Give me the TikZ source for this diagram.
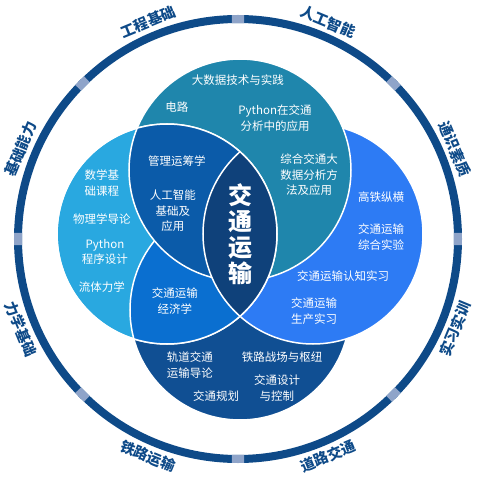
\documentclass[tikz,border=0pt]{standalone}
\usepackage{fontspec}
\setmainfont{Noto Sans CJK SC}
\usepackage{xcolor}
\usepackage{tikz}

\definecolor{ringblue}{HTML}{0E4A88}
\definecolor{ringgap}{HTML}{8FA4C9}
\definecolor{topteal}{HTML}{1F86AC}
\definecolor{leftsky}{HTML}{29A8E0}
\definecolor{rightblue}{HTML}{2D7BF4}
\definecolor{bottomnavy}{HTML}{104F93}
\definecolor{tlblue}{HTML}{0B5BA9}
\definecolor{lbblue}{HTML}{0A6FD0}
\definecolor{coreblue}{HTML}{0F417A}

\begin{document}
\begin{tikzpicture}[x=1pt, y=1pt,
  course/.style={text=white, align=center, font=\fontsize{11.5}{15.5}\selectfont},
  ringlabel/.style={text=ringblue, inner sep=0pt, font=\fontsize{14.5}{14.5}\selectfont\bfseries},
  venn/.style={draw=white, line width=1.5pt}]
  \useasboundingbox (-238,-240) rectangle (241,239);
  \coordinate (T) at (2,69);
  \coordinate (B) at (2,-71);
  \coordinate (L) at (-71,5);
  \coordinate (R) at (75,5);

  \draw[ringblue, line width=8pt] (0,0) circle (220);
  \foreach \a in {0,45,...,315}
    \draw[ringgap, line width=8pt] (\a-1.6:220) arc[start angle=\a-1.6, end angle=\a+1.6, radius=220];
  \foreach \a/\t [count=\i] in {112.5/工程基础, 67.5/人工智能, 22.5/通识素质, 157.5/基础能力}
    \node[ringlabel, rotate=\a-90] (upper\i) at (\a:235) {\t};
  \foreach \a/\t [count=\i] in {-22.5/实习实训, -67.5/道路交通, -112.5/铁路运输, -157.5/力学基础}
    \node[ringlabel, rotate=\a+90] (lower\i) at (\a:235) {\t};

  \filldraw[venn, fill=bottomnavy] (B) circle (110);
  \filldraw[venn, fill=rightblue] (R) circle (110);
  \filldraw[venn, fill=topteal] (T) circle (111);
  \filldraw[venn, fill=leftsky] (L) circle (110);
  \begin{scope}
    \clip (L) circle (110);
    \filldraw[venn, fill=lbblue] (B) circle (110);
    \filldraw[venn, fill=tlblue] (T) circle (111);
    \clip (R) circle (110);
    \fill[coreblue] (L) circle (110);
  \end{scope}
  \begin{scope}
    \clip (L) circle (110);
    \draw[venn] (R) circle (110);
  \end{scope}
  \draw[venn] (L) circle (110);

  \node[course] (dsj) at (0,159) {大数据技术与实践};
  \node[course] (dianlu) at (-61,132) {电路};
  \node[course] (pyapp) at (37,121) {Python在交通\\分析中的应用};
  \node[course] (zhdsj) at (71,64) {综合交通大\\数据分析方\\法及应用};
  \node[course] (sxjc) at (-136,56) {数学基\\础课程};
  \node[course] (wlx) at (-136,20) {物理学导论};
  \node[course] (pycx) at (-133,-13) {Python\\程序设计};
  \node[course] (ltlx) at (-136,-48) {流体力学};
  \node[course] (glyc) at (-61,78) {管理运筹学};
  \node[course] (rgzn) at (-65,28) {人工智能\\基础及\\应用};
  \node[course] (jjx) at (-63,-62) {交通运输\\经济学};
  \node[text=white, align=center, font=\fontsize{24}{26}\selectfont\bfseries] (core) at (2,5) {交\\通\\运\\输};
  \node[course] (gtzh) at (143,42) {高铁纵横};
  \node[course] (zhsy) at (143,2) {交通运输\\综合实验};
  \node[course] (rzsx) at (105,-37) {交通运输认知实习};
  \node[course] (scsx) at (76,-72) {交通运输\\生产实习};
  \node[course] (gdjt) at (-48,-126) {轨道交通\\运输导论};
  \node[course] (jtgh) at (-22,-157) {交通规划};
  \node[course] (tlzc) at (44,-118) {铁路战场与枢纽};
  \node[course] (jtsj) at (39,-149) {交通设计\\与控制};
\end{tikzpicture}
\end{document}
